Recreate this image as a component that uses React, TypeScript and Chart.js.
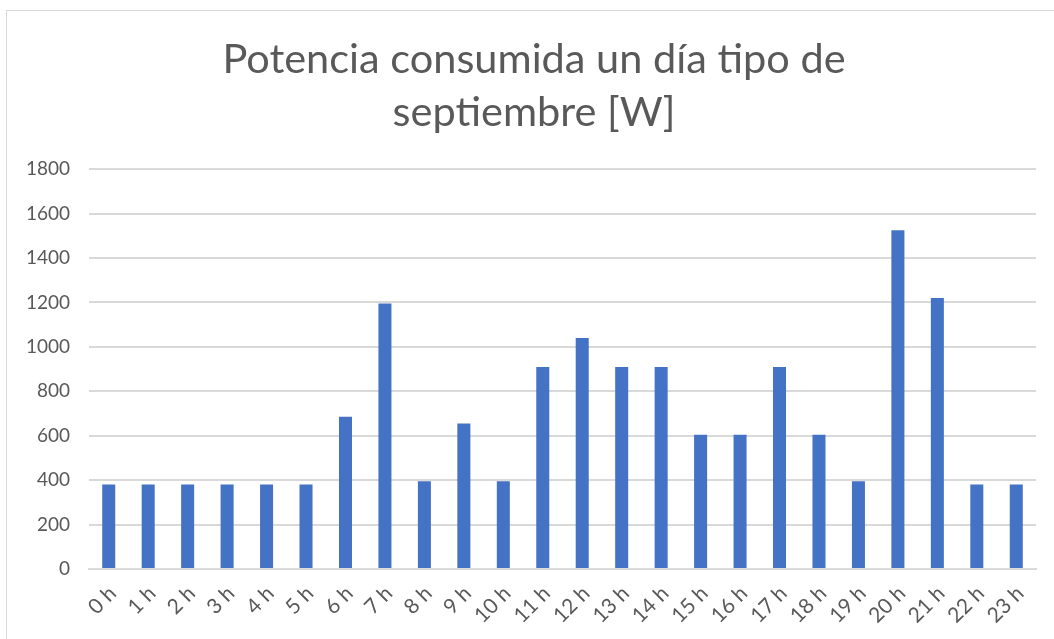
import React, { useEffect, useRef } from "react";
import { Chart, registerables } from "chart.js";

Chart.register(...registerables);

const hours: string[] = [
  "0 h", "1 h", "2 h", "3 h", "4 h", "5 h", "6 h", "7 h", "8 h", "9 h", "10 h", "11 h",
  "12 h", "13 h", "14 h", "15 h", "16 h", "17 h", "18 h", "19 h", "20 h", "21 h", "22 h", "23 h",
];
const potencia: number[] = [
  380, 380, 380, 380, 380, 380, 685, 1195, 395, 655, 395, 910,
  1040, 910, 910, 605, 605, 910, 605, 395, 1525, 1220, 380, 380,
];
const titleLines: string[] = ["Potencia consumida un día tipo de", "septiembre [W]"];
const yMin = 0;
const yMax = 1800;
const yStep = 200;

const TEXT = "#595959";
const GRID = "#d9d9d9";
const BAR = "#4472C4";
const FONT = "Lato, 'Open Sans', sans-serif";

// widen the y-axis label clip region to the canvas' left edge
const widenYAxis = {
  id: "widenYAxis",
  afterLayout(chart: any) {
    const y = chart.scales.y;
    if (y) y.left = 0;
  },
};

export default function App() {
  const ref = useRef<HTMLCanvasElement | null>(null);

  useEffect(() => {
    if (!ref.current) return;
    const chart = new Chart(ref.current, {
      type: "bar",
      data: {
        labels: hours,
        datasets: [
          {
            label: "Potencia",
            data: potencia,
            backgroundColor: BAR,
            borderWidth: 0,
            barPercentage: 0.33,
            categoryPercentage: 1,
          },
        ],
      },
      plugins: [widenYAxis],
      options: {
        animation: false,
        responsive: false,
        maintainAspectRatio: false,
        layout: { padding: { left: 25, right: 25, top: 0, bottom: 0 } },
        plugins: {
          legend: { display: false },
          tooltip: { enabled: false },
          title: {
            display: true,
            text: titleLines,
            color: TEXT,
            font: { family: FONT, size: 41.5, weight: "normal", lineHeight: 1.28 },
            padding: { top: 22, bottom: 30 },
          },
        },
        scales: {
          x: {
            grid: { display: false, drawTicks: false },
            border: { display: true, color: GRID, width: 2 },
            ticks: {
              color: TEXT,
              font: { family: FONT, size: 21 },
              minRotation: 45,
              maxRotation: 45,
              padding: 12,
              labelOffset: 4,
              autoSkip: false,
            },
            afterFit: (s: any) => {
              s.height = 82;
            },
          },
          y: {
            min: yMin,
            max: yMax,
            grid: { color: GRID, lineWidth: 2, drawTicks: false },
            border: { display: false },
            ticks: {
              stepSize: yStep,
              color: TEXT,
              font: { family: FONT, size: 19 },
              padding: 19,
              callback: (v: any) => String(v),
            },
            afterFit: (s: any) => {
              s.width = 57;
            },
          },
        },
      },
    });
    return () => chart.destroy();
  }, []);

  return (
    <div style={{ position: "fixed", inset: 0, overflow: "hidden", background: "#fff" }}>
      <div
        style={{
          position: "absolute",
          left: 6,
          top: 10,
          width: 1100,
          height: 700,
          border: "1px solid #d9d9d9",
          background: "#fff",
        }}
      >
        <canvas ref={ref} width={1054} height={640} style={{ display: "block" }} />
      </div>
    </div>
  );
}
